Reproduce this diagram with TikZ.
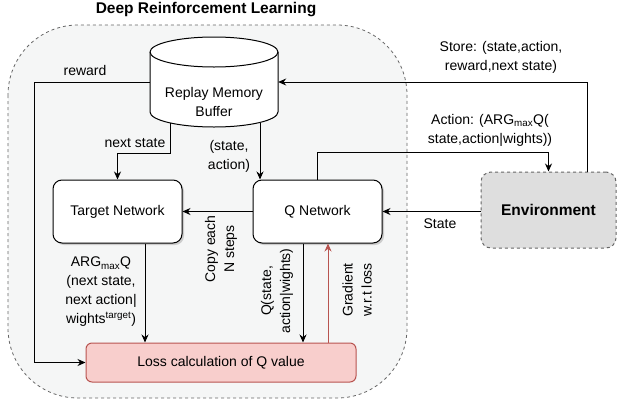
\documentclass[tikz,border=0pt]{standalone}
\usepackage{fontspec}
\setmainfont{Liberation Sans}
\usetikzlibrary{arrows.meta,shadows,calc}
\definecolor{cont}{HTML}{F5F6F6}
\definecolor{envfill}{HTML}{DEDEDE}
\definecolor{lossfill}{HTML}{F8CECC}
\definecolor{lossdraw}{HTML}{B85450}
\definecolor{dline}{HTML}{666666}
\begin{document}
\begin{tikzpicture}[x=1pt,y=-1pt,
  font=\fontsize{14}{19}\selectfont,
  arr/.style={-{Stealth[length=8pt,width=7pt]}, line width=1pt},
  netbox/.style={draw, line width=1pt, rounded corners=9pt, fill=white,
    minimum width=129pt, minimum height=63pt,
    drop shadow={shadow xshift=2pt,shadow yshift=-2pt,fill=black!35}},
  lbl/.style={align=center, inner sep=0pt},
  boldtxt/.style={font=\bfseries\fontsize{15.5}{18}\selectfont}]
\useasboundingbox (0,0) rectangle (618,402);
% container
\draw[dline, dash pattern=on 3pt off 3pt, fill=cont, rounded corners=70pt, line width=0.8pt] (8,25) rectangle (407,398);
\node[boldtxt] (title) at (206,10) {Deep Reinforcement Learning};
% cylinder
\draw[line width=1pt, fill=white] (150,52) -- (150,112)
  arc[start angle=180, end angle=360, x radius=64pt, y radius=15pt]
  -- (278,52)
  arc[start angle=0, end angle=180, x radius=64pt, y radius=15pt] -- cycle;
\draw[line width=1pt] (150,52) arc[start angle=180, end angle=360, x radius=64pt, y radius=15pt];
\node[minimum width=128pt, minimum height=90pt, inner sep=0pt] (cyl) at (214,82) {};
\node[lbl] (rmtext) at (214,102) {Replay Memory\\Buffer};
\coordinate (ns) at (170,123);
\coordinate (sa) at (260,122.5);
% boxes
\node[netbox] (target) at (117.5,211.5) {Target Network};
\node[netbox] (q) at (317.5,211.5) {Q Network};
\node[draw=lossdraw, fill=lossfill, rounded corners=6pt, minimum width=270pt, minimum height=39pt, line width=1pt] (loss) at (221,362.5) {Loss calculation of Q value};
\node[draw=dline, dash pattern=on 3pt off 3pt, line width=1pt, fill=envfill, rounded corners=10pt, minimum width=135pt, minimum height=76pt, boldtxt] (env) at (548.5,210) {Environment};
% connectors
\coordinate (rwc) at (34,362.5);
\draw[arr] (cyl.west) -| (rwc) -- (loss.west);
\node[lbl] (lreward) at (85,70) {reward};
\draw[arr] (ns) -- ++(0,30) -| (target.north);
\node[lbl] (lnext) at (135,143) {next state};
\draw[arr] (sa) -- (sa |- q.north);
\node[lbl] (lsa) at (229,156) {(state,\\action)};
\draw[arr] ($(env.north)+(38.5,0)$) |- (cyl.east);
\node[lbl] (lstore) at (501,57) {Store: (state,action,\\reward,next state)};
\draw[arr] (q.north) -- ++(0,-27) -| (env.north);
\node[lbl] (laction) at (490,130) {Action: (ARG\textsubscript{max}Q(\\state,action|wights))};
\draw[arr] (env.west |- q.east) -- (q.east);
\node[lbl] (lstate) at (440,224) {State};
\draw[arr] (q.west) -- (target.east);
\node[lbl, rotate=90] (lcopy) at (221,249) {Copy each\\N steps};
\draw[arr] ([xshift=27.5pt]target.south) -- ([xshift=27.5pt]target.south |- loss.north);
\node[lbl] (largmax) at (101,292) {ARG\textsubscript{max}Q\\(next state,\\next action|\\wights\textsuperscript{target})};
\draw[arr] ([xshift=-14.5pt]q.south) -- ([xshift=-14.5pt]q.south |- loss.north);
\node[lbl, rotate=90] (lqsa) at (277,291) {Q(state,\\action|wights)};
\draw[arr, lossdraw] ([xshift=10.5pt]q.south |- loss.north) -- ([xshift=10.5pt]q.south);
\node[lbl, rotate=90] (lgrad) at (357,290) {Gradient\\w.r.t loss};
\end{tikzpicture}
\end{document}
